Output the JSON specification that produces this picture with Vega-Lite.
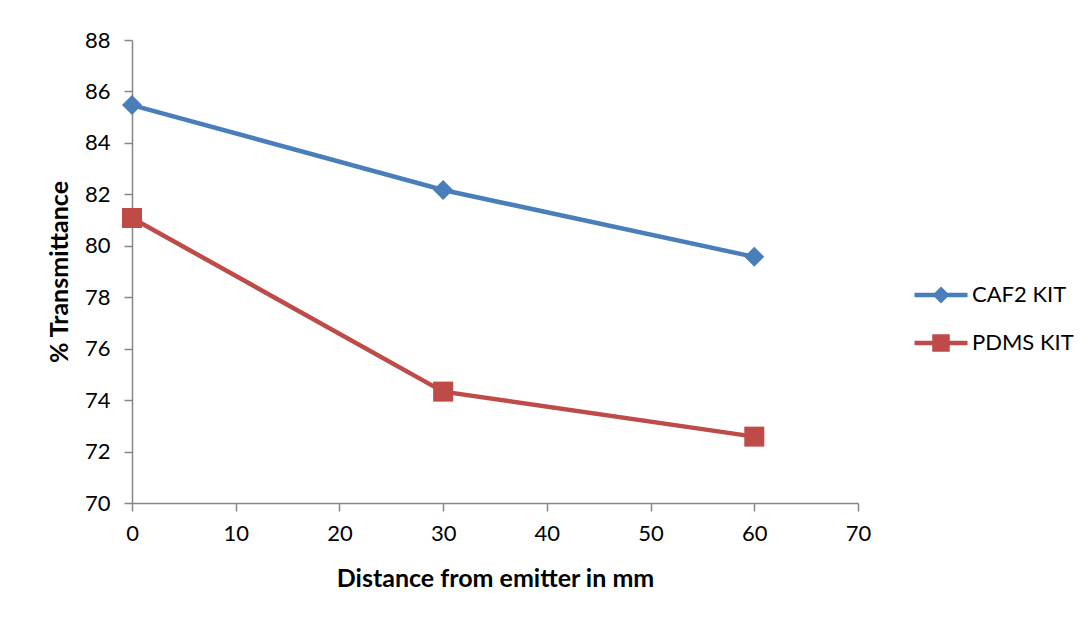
{
  "$schema": "https://vega.github.io/schema/vega-lite/v6.json",
  "autosize": "none",
  "width": 726,
  "height": 463,
  "padding": {"left": 132, "top": 40, "right": 231, "bottom": 116},
  "background": "white",
  "config": {
    "view": {"stroke": null},
    "font": "Lato",
    "axis": {
      "grid": false,
      "domainColor": "#868686",
      "domainWidth": 1.5,
      "tickColor": "#868686",
      "tickWidth": 1.5,
      "tickSize": 8,
      "labelFont": "Lato",
      "labelFontSize": 22,
      "labelColor": "#000000",
      "titleFont": "Lato",
      "titleFontSize": 25,
      "titleFontWeight": "bold",
      "titleColor": "#000000"
    },
    "legend": {
      "padding": 0,
      "labelFont": "Lato",
      "labelFontSize": 22,
      "labelColor": "#000000",
      "labelOffset": 2
    }
  },
  "data": {
    "values": [
      {"series": "CAF2 KIT", "distance": 0, "transmittance": 85.47},
      {"series": "CAF2 KIT", "distance": 30, "transmittance": 82.17},
      {"series": "CAF2 KIT", "distance": 60, "transmittance": 79.57},
      {"series": "PDMS KIT", "distance": 0, "transmittance": 81.08},
      {"series": "PDMS KIT", "distance": 30, "transmittance": 74.33},
      {"series": "PDMS KIT", "distance": 60, "transmittance": 72.58}
    ]
  },
  "encoding": {
    "x": {
      "field": "distance",
      "type": "quantitative",
      "scale": {"domain": [0, 70], "nice": false, "zero": false},
      "axis": {"values": [0, 10, 20, 30, 40, 50, 60, 70], "title": "Distance from emitter in mm", "labelPadding": 12, "titlePadding": 22, "labelFlush": false}
    },
    "y": {
      "field": "transmittance",
      "type": "quantitative",
      "scale": {"domain": [70, 88], "nice": false, "zero": false},
      "axis": {"values": [70, 72, 74, 76, 78, 80, 82, 84, 86, 88], "title": "% Transmittance", "labelPadding": 14, "titlePadding": 12, "labelFlush": false}
    }
  },
  "layer": [
    {
      "mark": {"type": "line", "strokeWidth": 4.5},
      "encoding": {
        "color": {
          "field": "series",
          "type": "nominal",
          "scale": {"domain": ["CAF2 KIT", "PDMS KIT"], "range": ["#4A7EBB", "#BE4B48"]},
          "legend": null
        }
      }
    },
    {
      "mark": {"type": "point", "filled": true, "opacity": 1, "size": 400},
      "encoding": {
        "color": {
          "field": "series",
          "type": "nominal",
          "scale": {"domain": ["CAF2 KIT", "PDMS KIT"], "range": ["#4A7EBB", "#BE4B48"]},
          "legend": null
        },
        "shape": {
          "field": "series",
          "type": "nominal",
          "scale": {"domain": ["CAF2 KIT", "PDMS KIT"], "range": ["diamond", "square"]},
          "legend": null
        }
      }
    },
    {
      "transform": [{"filter": "datum.series === 'CAF2 KIT'"}],
      "mark": {"type": "point", "filled": true, "opacity": 0, "color": "#4A7EBB", "strokeWidth": 4.5},
      "encoding": {
        "stroke": {
          "field": "series",
          "type": "nominal",
          "scale": {"domain": ["CAF2 KIT"], "range": ["#4A7EBB"]},
          "legend": {
            "title": null,
            "orient": "none",
            "legendX": 780,
            "legendY": 226,
            "symbolType": "M-1,0H1M0,-0.2L0.2,0L0,0.2L-0.2,0Z",
            "symbolSize": 2809,
            "symbolStrokeWidth": 4.5,
            "symbolFillColor": "#4A7EBB",
            "symbolStrokeColor": "#4A7EBB",
            "symbolOpacity": 1
          }
        }
      }
    },
    {
      "transform": [{"filter": "datum.series === 'PDMS KIT'"}],
      "mark": {"type": "point", "filled": true, "opacity": 0, "color": "#BE4B48", "strokeWidth": 4.5},
      "encoding": {
        "fill": {
          "field": "series",
          "type": "nominal",
          "scale": {"domain": ["PDMS KIT"], "range": ["#BE4B48"]},
          "legend": {
            "title": null,
            "orient": "none",
            "legendX": 780,
            "legendY": 274,
            "symbolType": "M-1,0H1M-0.245,-0.245H0.245V0.245H-0.245Z",
            "symbolSize": 2809,
            "symbolStrokeWidth": 4.5,
            "symbolFillColor": "#BE4B48",
            "symbolStrokeColor": "#BE4B48",
            "symbolOpacity": 1
          }
        }
      }
    }
  ]
}
